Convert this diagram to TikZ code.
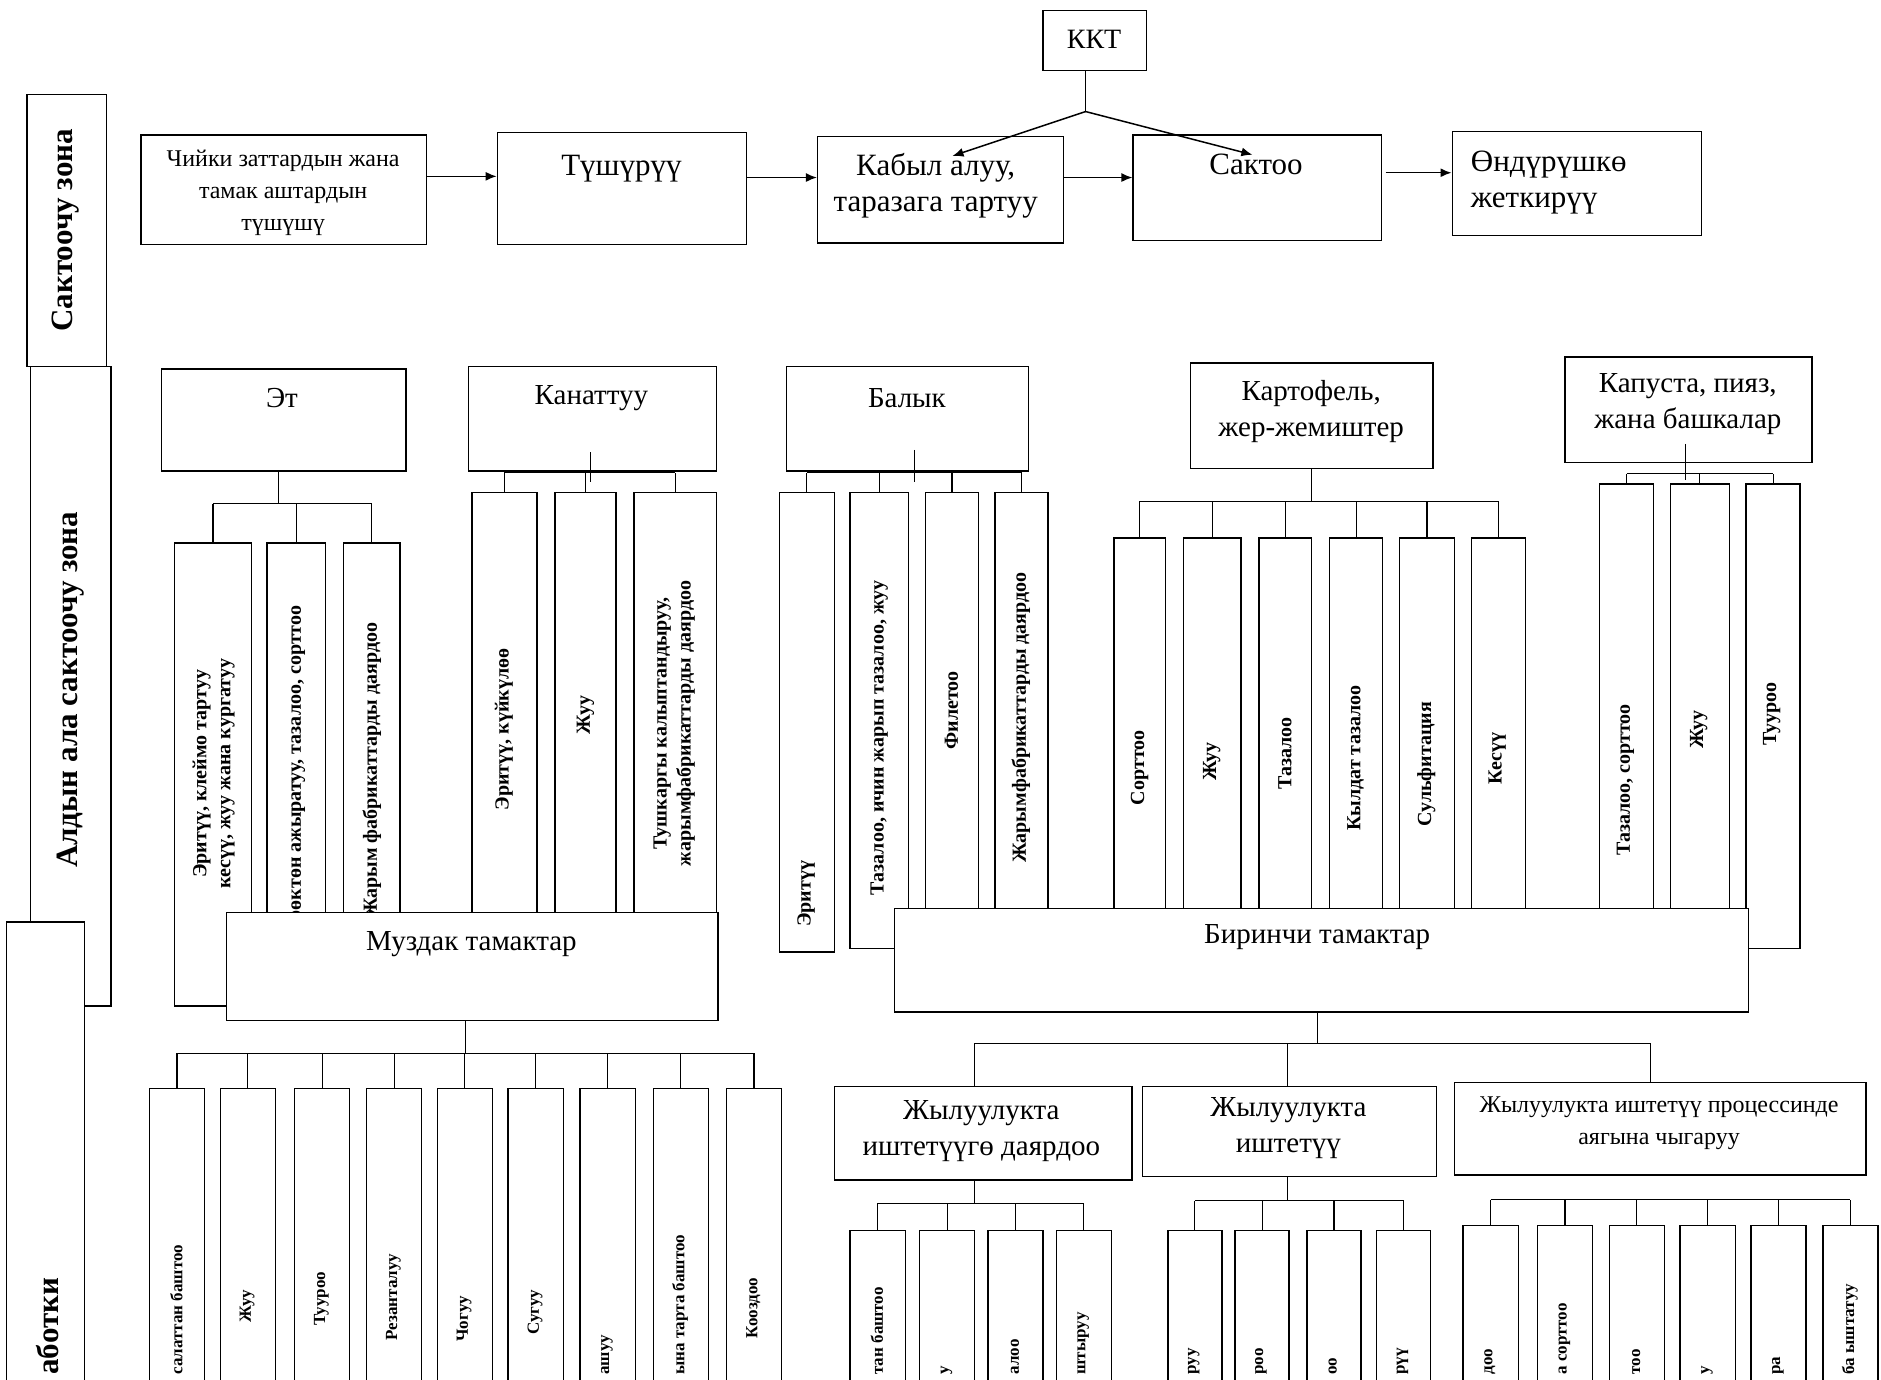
\documentclass[tikz,border=0pt]{standalone}
\usepackage{fontspec}
\setmainfont{Liberation Serif}
\usetikzlibrary{arrows.meta}
\tikzset{
 box/.style={draw, line width=1.3pt, fill=white, inner sep=0pt},
 conn/.style={line width=1.1pt},
 arr/.style={line width=1.5pt, -{Latex[length=11pt,width=9pt]}},
 big/.style={font=\fontsize{31}{36}\selectfont, align=center, inner sep=0pt},
 mid/.style={font=\fontsize{29}{36}\selectfont, align=center, inner sep=0pt},
 small/.style={font=\fontsize{24}{32}\selectfont, align=center, inner sep=0pt},
 vt/.style={rotate=90, font=\bfseries\fontsize{20}{24}\selectfont, align=center, inner sep=0pt},
 vtl/.style={rotate=90, font=\bfseries\fontsize{17}{22}\selectfont, inner sep=0pt},
 vte/.style={vtl, anchor=east},
 vtw/.style={vtl, anchor=west},
 zone/.style={rotate=90, font=\bfseries\fontsize{31}{34}\selectfont, inner sep=0pt},
}
\newcommand\bx[5]{\node[box, anchor=north west, minimum width={(#4-#2)*1.2pt}, minimum height={(#5-#3)*1.2pt}] (#1) at (#2,#3) {};}
\newcommand\tbar[3]{\draw[conn] (#1.north |- 0,#3) -- (#2.north |- 0,#3);}
\newcommand\drops[2]{\foreach \c in {#1} {\draw[conn] (\c.north) -- (\c.north |- 0,#2);}}
\begin{document}
\begin{tikzpicture}[x=1.2pt, y=-1.2pt]
\useasboundingbox (0,0) rectangle (1568,1150);
\clip (0,0) rectangle (1568,1150);
\fill[white] (0,0) rectangle (1568,1150);

% ---------- zone labels ----------
\bx{zs}{22}{78}{88}{305}
\node[zone] (zst) at (55,192) {Сактоочу зона};
\bx{za}{25}{305}{92}{838}
\node[zone] (zat) at (59,575) {Алдын ала сактоочу зона};
\bx{zo}{5}{768}{70}{1160}
\node[zone, anchor=west] (zot) at (40,1146) {аботки};

% ---------- top row ----------
\bx{kkt}{869}{8}{955}{58}
\node[font=\fontsize{28}{30}\selectfont, inner sep=0pt] (kktt) at (912,33) {ККТ};
\bx{s1}{117}{112}{355}{203}
\node[small] (s1t) at (236,161) {Чийки заттардын жана\\тамак аштардын\\түшүшү};
\bx{s2}{414}{110}{622}{203}
\node[big] (s2t) at (518,141) {Түшүрүү};
\bx{s3}{681}{113}{886}{202}
\node[big] (s3t) at (780,155) {Кабыл алуу,\\таразага тартуу};
\bx{s4}{944}{112}{1151}{200}
\node[big] (s4t) at (1047,137) {Сактоо};
\bx{s5}{1210}{109}{1418}{196}
\node[big, align=left, anchor=west] (s5t) at (1226,152) {Өндүрүшкө\\жеткирүү};

\draw[arr] (s1.east |- 0,147) -- (s2.west |- 0,147);
\draw[arr] (s2.east |- 0,148) -- (s3.west |- 0,148);
\draw[arr] (s3.east |- 0,148) -- (s4.west |- 0,148);
\draw[arr] (s4.east |- 0,144) ++(3,0) -- (s5.west |- 0,144);
\coordinate (kj) at (905,93);
\draw[line width=1.5pt] (kkt.south -| kj) -- (kj);
\draw[arr] (kj) -- (794,130);
\draw[arr] (kj) -- (1044,129);

% ---------- Эт ----------
\bx{et}{134}{307}{338}{392}
\node[mid] (ett) at (235,332) {Эт};
\bx{e1}{145}{452}{209}{838}
\bx{e2}{222}{452}{271}{765}
\bx{e3}{286}{452}{333}{765}
\node[vt] (e1t) at (178,645) {Эритүү, клеймо тартуу\\кесүү, жуу жана кургатуу};
\node[vt] (e2t) at (247,642) {Сөөктөн ажыратуу, тазалоо, сорттоо};
\node[vt] (e3t) at (310,642) {Жарым фабрикаттарды даярдоо};
\draw[conn] (et.south -| 232,0) -- (232,420);
\tbar{e1}{e3}{420}
\drops{e1,e2,e3}{420}

% ---------- Канаттуу ----------
\bx{kn}{390}{305}{597}{392}
\node[mid] (knt) at (493,332) {Канаттуу};
\bx{k1}{393}{410}{447}{765}
\bx{k2}{462}{410}{513}{765}
\bx{k3}{528}{410}{597}{765}
\node[vt] (k1t) at (420,608) {Эритүү, күйкүлөө};
\node[vt] (k2t) at (488,596) {Жуу};
\node[vt] (k3t) at (562,603) {Тушкаргы калыптандыруу,\\жарымфабрикаттарды даярдоо};
\draw[conn] (492,377) -- (492,402);
\tbar{k1}{k3}{394}
\drops{k1,k2,k3}{394}

% ---------- Балык ----------
\bx{bl}{655}{305}{857}{392}
\node[mid] (blt) at (756,332) {Балык};
\bx{b1}{649}{410}{695}{793}
\bx{b2}{708}{410}{757}{790}
\bx{b3}{771}{410}{815}{757}
\bx{b4}{829}{410}{873}{757}
\node[vt] (b1t) at (672,745) {Эритүү};
\node[vt] (b2t) at (733,615) {Тазалоо, ичин жарып тазалоо, жуу};
\node[vt] (b3t) at (793,592) {Филетоо};
\node[vt] (b4t) at (851,598) {Жарымфабрикаттарды даярдоо};
\draw[conn] (762,375) -- (762,402);
\tbar{b1}{b4}{394}
\drops{b1,b2,b3,b4}{394}

% ---------- Картофель ----------
\bx{pt}{992}{302}{1194}{390}
\node[mid] (ptt) at (1093,343) {Картофель,\\жер-жемиштер};
\foreach \n/\a/\b in {p1/928/971, p2/986/1034, p3/1049/1093, p4/1108/1152, p5/1166/1212, p6/1226/1271}
  {\bx{\n}{\a}{448}{\b}{757}}
\node[vt] (p1t) at (950,640) {Сорттоо};
\node[vt] (p2t) at (1010,635) {Жуу};
\node[vt] (p3t) at (1071,628) {Тазалоо};
\node[vt] (p4t) at (1130,632) {Кылдат тазалоо};
\node[vt] (p5t) at (1189,637) {Сульфитация};
\node[vt] (p6t) at (1248,632) {Кесүү};
\draw[conn] (pt.south) -- (pt.south |- 0,418);
\tbar{p1}{p6}{418}
\drops{p1,p2,p3,p4,p5,p6}{418}

% ---------- Капуста ----------
\bx{cb}{1304}{297}{1510}{385}
\node[mid] (cbt) at (1407,337) {Капуста, пияз,\\жана башкалар};
\bx{c1}{1333}{403}{1378}{757}
\bx{c2}{1392}{403}{1441}{757}
\bx{c3}{1455}{403}{1500}{790}
\node[vt] (c1t) at (1355,650) {Тазалоо, сорттоо};
\node[vt] (c2t) at (1416,608) {Жуу};
\node[vt] (c3t) at (1477,595) {Тууроо};
\draw[conn] (1405,370) -- (1405,400);
\tbar{c1}{c3}{395}
\drops{c1,c2,c3}{395}

% ---------- Муздак тамактар ----------
\bx{mz}{188}{760}{598}{850}
\node[mid] (mzt) at (393,787) {Муздак тамактар};
\foreach \n/\a in {m1/124, m2/183, m3/245, m4/305, m5/364, m6/423, m7/483, m8/544, m9/605}
  {\bx{\n}{\a}{907}{\a+46}{1160}}
\draw[conn] (mz.south -| 388,0) -- (388,878);
\tbar{m1}{m9}{878}
\drops{m1,m2,m3,m4,m5,m6,m7,m8,m9}{878}
\node[vtw] (m1t) at (147,1146) {салаттан баштоо};
\node[vte] (m2t) at (206,1075) {Жуу};
\node[vte] (m3t) at (268,1060) {Тууроо};
\node[vte] (m4t) at (328,1045) {Резанталуу};
\node[vte] (m5t) at (387,1080) {Чогуу};
\node[vte] (m6t) at (446,1075) {Сугуу};
\node[vtw] (m7t) at (506,1146) {ашуу};
\node[vtw] (m8t) at (567,1146) {ына тарта баштоо};
\node[vte] (m9t) at (628,1065) {Кооздоо};

% ---------- Биринчи тамактар ----------
\bx{br}{745}{757}{1457}{843}
\node[mid] (brt) at (1098,781) {Биринчи тамактар};
\bx{ha}{695}{905}{943}{983}
\node[mid] (hat) at (818,943) {Жылуулукта\\иштетүүгө даярдоо};
\bx{hb}{952}{905}{1197}{980}
\node[mid] (hbt) at (1074,940) {Жылуулукта\\иштетүү};
\bx{hc}{1212}{902}{1555}{979}
\node[small, font=\fontsize{24}{32}\selectfont] (hct) at (1383,936) {Жылуулукта иштетүү процессинде\\аягына чыгаруу};
\draw[conn] (br.south -| 1098,0) -- (1098,870);
\draw[conn] (812,870) -- (1376,870);
\draw[conn] (ha.north -| 812,0) -- (812,870);
\draw[conn] (hb.north -| 1073,0) -- (1073,870);
\draw[conn] (hc.north -| 1376,0) -- (1376,870);

\foreach \n/\a in {a1/708, a2/766, a3/823, a4/880}
  {\bx{\n}{\a}{1025}{\a+46}{1160}}
\draw[conn] (ha.south -| 812,0) -- (812,1003);
\tbar{a1}{a4}{1003}
\drops{a1,a2,a3,a4}{1003}
\node[vtw] (a1t) at (731,1146) {тан баштоо};
\node[vtw] (a2t) at (789,1146) {у};
\node[vtw] (a3t) at (846,1146) {алоо};
\node[vtw] (a4t) at (903,1146) {штыруу};

\foreach \n/\a in {q1/973, q2/1029, q3/1089, q4/1147}
  {\bx{\n}{\a}{1025}{\a+45}{1160}}
\draw[conn] (hb.south -| 1073,0) -- (1073,1001);
\tbar{q1}{q4}{1001}
\drops{q1,q2,q3,q4}{1001}
\node[vtw] (q1t) at (995,1146) {руу};
\node[vtw] (q2t) at (1051,1146) {роо};
\node[vtw] (q3t) at (1111,1146) {оо};
\node[vtw] (q4t) at (1169,1146) {рүү};

\foreach \n/\a in {r1/1219, r2/1281, r3/1341, r4/1400, r5/1459, r6/1519}
  {\bx{\n}{\a}{1021}{\a+46}{1160}}
\tbar{r1}{r6}{1000}
\drops{r1,r2,r3,r4,r5,r6}{1000}
\node[vtw] (r1t) at (1242,1146) {доо};
\node[vtw] (r2t) at (1304,1146) {а сорттоо};
\node[vtw] (r3t) at (1364,1146) {тоо};
\node[vtw] (r4t) at (1423,1146) {у};
\node[vtw] (r5t) at (1482,1146) {ра};
\node[vtw] (r6t) at (1542,1146) {ба ыштатуу};
\end{tikzpicture}
\end{document}
